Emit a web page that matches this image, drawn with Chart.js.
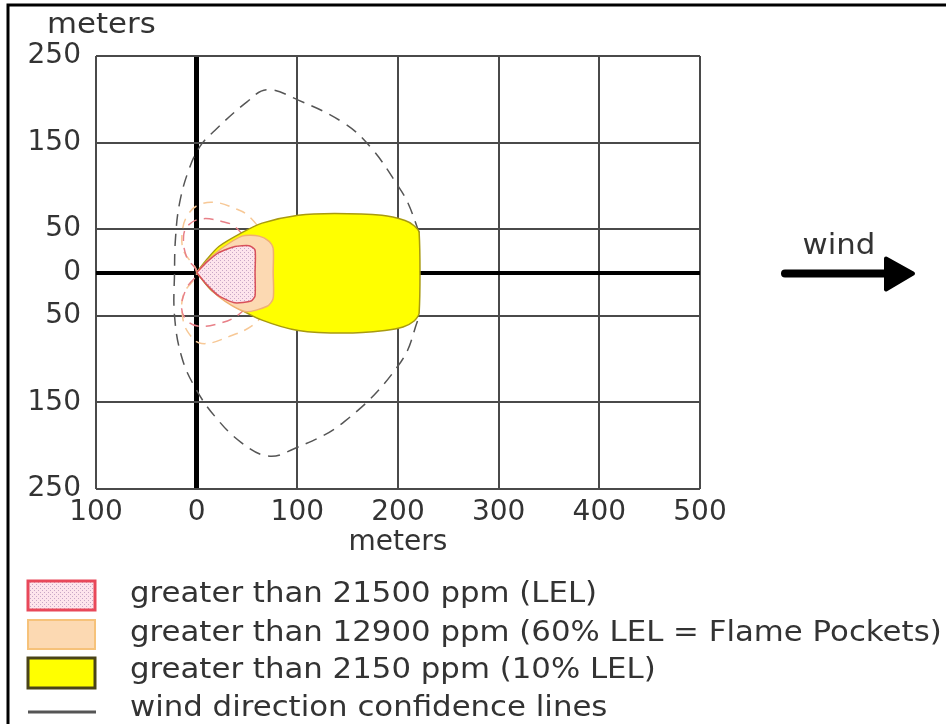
<!DOCTYPE html>
<html>
<head>
<meta charset="utf-8">
<script src="https://cdn.jsdelivr.net/npm/chart.js@4.4.1/dist/chart.umd.min.js"></script>
<style>
  html, body { margin: 0; padding: 0; background: #fff; }
  #wrap { position: relative; width: 946px; height: 724px; }
</style>
</head>
<body>
<div id="wrap"><canvas id="ThreatChart"></canvas></div>
<script>
// axis ticks (meters)
var tickX = [-100, 0, 100, 200, 300, 400, 500];
var tickY = [-250, -150, -50, 0, 50, 150, 250];

// red zone: greater than 21500 ppm (LEL)
var lelX = [0, 10, 22, 38, 52, 58, 58, 58, 54, 38, 22, 10, 0];
var lelY = [0, 12, 23, 30, 31, 26, 0, -27, -33, -35, -27, -14, 0];

// orange zone: greater than 12900 ppm (60% LEL)
var pocketX = [0, 10, 25, 45, 62, 72, 76, 76, 76, 70, 48, 22, 0];
var pocketY = [0, 13, 28, 42, 42, 36, 28, 0, -30, -39, -45, -28, 0];

// yellow zone: greater than 2150 ppm (10% LEL)
var tenX = [0, 10, 22, 45, 65, 101, 137, 184, 207, 216, 221, 221, 216, 205, 187, 147, 101, 65, 38, 15, 0];
var tenY = [0, 15, 30, 46, 57, 66, 68, 66, 60, 54, 46, -47, -56, -63, -67, -70, -67, -55, -39, -21, 0];

// wind direction confidence lines
var confX = [221, 210, 200, 174, 147, 101, 70, 50, 18, 3, -8, -17, -21, -22, -22, -15, -2, 18, 45, 71, 94, 147, 203, 221];
var confY = [46, 80, 100, 143, 172, 199, 211, 197, 164, 145, 118, 80, 40, 0, -50, -97, -132, -166, -197, -212, -205, -172, -103, -51];
var pocketConfX = [70, 52, 38, 18, 2, -8, -14, -13, 0, -13, -14, -8, 5, 32, 58, 70];
var pocketConfY = [39, 65, 74, 81, 78, 68, 50, 25, 0, -25, -51, -70, -82, -74, -59, -39];
var lelConfX = [56, 38, 25, 5, -8, -13, -10, 0, -10, -15, -10, 2, 22, 40, 56];
var lelConfY = [28, 53, 59, 62, 55, 42, 18, 0, -18, -40, -55, -62, -59, -50, -32];

var legendLabels = [
    'greater than 21500 ppm (LEL)',
    'greater than 12900 ppm (60% LEL = Flame Pockets)',
    'greater than 2150 ppm (10% LEL)',
    'wind direction confidence lines'
];

function pts(xs, ys) {
    return xs.map(function (x, i) { return { x: x, y: ys[i] }; });
}

var canvas = document.getElementById('ThreatChart');
var ctx0 = canvas.getContext('2d');

// pink dotted fill for the LEL zone
function dotPattern() {
    var c = document.createElement('canvas');
    c.width = 4; c.height = 4;
    var g = c.getContext('2d');
    g.fillStyle = '#fde4ec';
    g.fillRect(0, 0, 4, 4);
    g.fillStyle = '#c8a6c6';
    g.fillRect(0, 0, 1, 1);
    g.fillRect(2, 2, 1, 1);
    return ctx0.createPattern(c, 'repeat');
}
var dots = dotPattern();

var FONT = '"DejaVu Sans", Verdana, sans-serif';

// the source picture's lettering is a little wider than DejaVu Sans
function wideText(ctx, t, x, y) {
    ctx.save();
    ctx.translate(x, y);
    ctx.scale(1.1, 1);
    ctx.fillText(t, 0, 0);
    ctx.restore();
}

var decor = {
    id: 'decor',
    afterDraw: function (chart) {
        var ctx = chart.ctx;
        var y0 = chart.scales.y.getPixelForValue(0);
        ctx.save();
        // frame
        ctx.strokeStyle = '#000';
        ctx.lineWidth = 3;
        ctx.beginPath();
        ctx.moveTo(8, 730);
        ctx.lineTo(8, 5);
        ctx.lineTo(950, 5);
        ctx.stroke();

        // y axis title
        ctx.fillStyle = '#333';
        ctx.font = '28px ' + FONT;
        ctx.textAlign = 'left';
        ctx.textBaseline = 'alphabetic';
        wideText(ctx, 'meters', 47, 33);

        // wind arrow
        ctx.textAlign = 'center';
        wideText(ctx, 'wind', 839, y0 - 19);
        ctx.strokeStyle = '#000';
        ctx.fillStyle = '#000';
        ctx.lineCap = 'round';
        ctx.lineJoin = 'round';
        ctx.lineWidth = 8;
        ctx.beginPath();
        ctx.moveTo(785, y0 + 1);
        ctx.lineTo(888, y0 + 1);
        ctx.stroke();
        ctx.lineWidth = 4;
        ctx.beginPath();
        ctx.moveTo(886, y0 - 14);
        ctx.lineTo(913, y0 + 1);
        ctx.lineTo(886, y0 + 17);
        ctx.closePath();
        ctx.fill();
        ctx.stroke();

        // legend
        var rows = [595, 634, 671, 709];
        ctx.lineCap = 'butt';
        ctx.lineJoin = 'miter';
        ctx.fillStyle = dots;
        ctx.fillRect(28, 581, 67, 29);
        ctx.strokeStyle = '#e8485a';
        ctx.lineWidth = 3;
        ctx.strokeRect(28, 581, 67, 29);
        ctx.fillStyle = '#fcd9b2';
        ctx.fillRect(28, 620, 67, 29);
        ctx.strokeStyle = '#f6c27a';
        ctx.lineWidth = 2;
        ctx.strokeRect(28, 620, 67, 29);
        ctx.fillStyle = '#ffff00';
        ctx.fillRect(28, 658, 67, 30);
        ctx.strokeStyle = '#4a4418';
        ctx.lineWidth = 3;
        ctx.strokeRect(28, 658, 67, 30);
        ctx.strokeStyle = '#555';
        ctx.lineWidth = 3;
        ctx.beginPath();
        ctx.moveTo(28, 712);
        ctx.lineTo(96, 712);
        ctx.stroke();

        ctx.fillStyle = '#333';
        ctx.font = '28px ' + FONT;
        ctx.textAlign = 'left';
        ctx.textBaseline = 'middle';
        legendLabels.forEach(function (t, i) {
            wideText(ctx, t, 130, rows[i]);
        });
        ctx.restore();
    }
};

var gridColor = function (c) { return c.tick && c.tick.value === 0 ? '#000' : '#4a4a4a'; };

var ThreatChart = new Chart(canvas, {
    type: 'scatter',
    data: {
        datasets: [{
            label: legendLabels[0],
            data: pts(lelX, lelY),
            showLine: true,
            fill: 'shape',
            backgroundColor: dots,
            borderColor: '#d8505a',
            borderWidth: 1.5,
            tension: 0.2,
            pointRadius: 0
        }, {
            label: legendLabels[1],
            data: pts(pocketX, pocketY),
            showLine: true,
            fill: 'shape',
            backgroundColor: '#fcd9b2',
            borderColor: '#f0b070',
            borderWidth: 1.5,
            tension: 0.25,
            pointRadius: 0
        }, {
            label: legendLabels[2],
            data: pts(tenX, tenY),
            showLine: true,
            fill: 'shape',
            backgroundColor: '#ffff00',
            borderColor: '#a89a10',
            borderWidth: 1.5,
            tension: 0.25,
            pointRadius: 0
        }, {
            label: 'lel confidence',
            data: pts(lelConfX, lelConfY),
            showLine: true,
            borderColor: '#e88088',
            borderWidth: 1.5,
            borderDash: [10, 7],
            tension: 0.4,
            pointRadius: 0
        }, {
            label: 'pocket confidence',
            data: pts(pocketConfX, pocketConfY),
            showLine: true,
            borderColor: '#f7c896',
            borderWidth: 1.5,
            borderDash: [10, 7],
            tension: 0.4,
            pointRadius: 0
        }, {
            label: legendLabels[3],
            data: pts(confX, confY),
            showLine: true,
            borderColor: '#555',
            borderWidth: 1.5,
            borderDash: [12, 8],
            tension: 0.4,
            pointRadius: 0
        }]
    },
    options: {
        responsive: true,
        maintainAspectRatio: false,
        animation: false,
        events: [],
        layout: { padding: { left: 0, top: 56, right: 246, bottom: 160 } },
        plugins: {
            legend: { display: false },
            tooltip: { enabled: false }
        },
        scales: {
            x: {
                type: 'linear',
                min: tickX[0],
                max: tickX[tickX.length - 1],
                z: 1,
                afterBuildTicks: function (scale) {
                    scale.ticks = tickX.map(function (v) { return { value: v }; });
                },
                afterFit: function (scale) { scale.height = 75; },
                ticks: {
                    color: '#333',
                    font: { family: FONT, size: 28 },
                    padding: 7,
                    maxRotation: 0,
                    callback: function (v) { return Math.abs(v); }
                },
                grid: {
                    drawTicks: false,
                    color: gridColor,
                    lineWidth: function (c) { return c.tick && c.tick.value === 0 ? 5 : 2; }
                },
                border: { display: false },
                title: {
                    display: true,
                    text: 'meters',
                    color: '#333',
                    font: { family: FONT, size: 28 },
                    padding: { top: 0, bottom: 4 }
                }
            },
            y: {
                type: 'linear',
                min: tickY[0],
                max: tickY[tickY.length - 1],
                z: 1,
                afterBuildTicks: function (scale) {
                    scale.ticks = tickY.map(function (v) { return { value: v }; });
                },
                afterFit: function (scale) { scale.width = 96; },
                ticks: {
                    color: '#333',
                    font: { family: FONT, size: 28 },
                    padding: 15,
                    callback: function (v) { return Math.abs(v); }
                },
                grid: {
                    drawTicks: false,
                    color: gridColor,
                    lineWidth: function (c) { return c.tick && c.tick.value === 0 ? 4 : 2; }
                },
                border: { display: false }
            }
        }
    },
    plugins: [decor]
});
</script>
</body>
</html>
